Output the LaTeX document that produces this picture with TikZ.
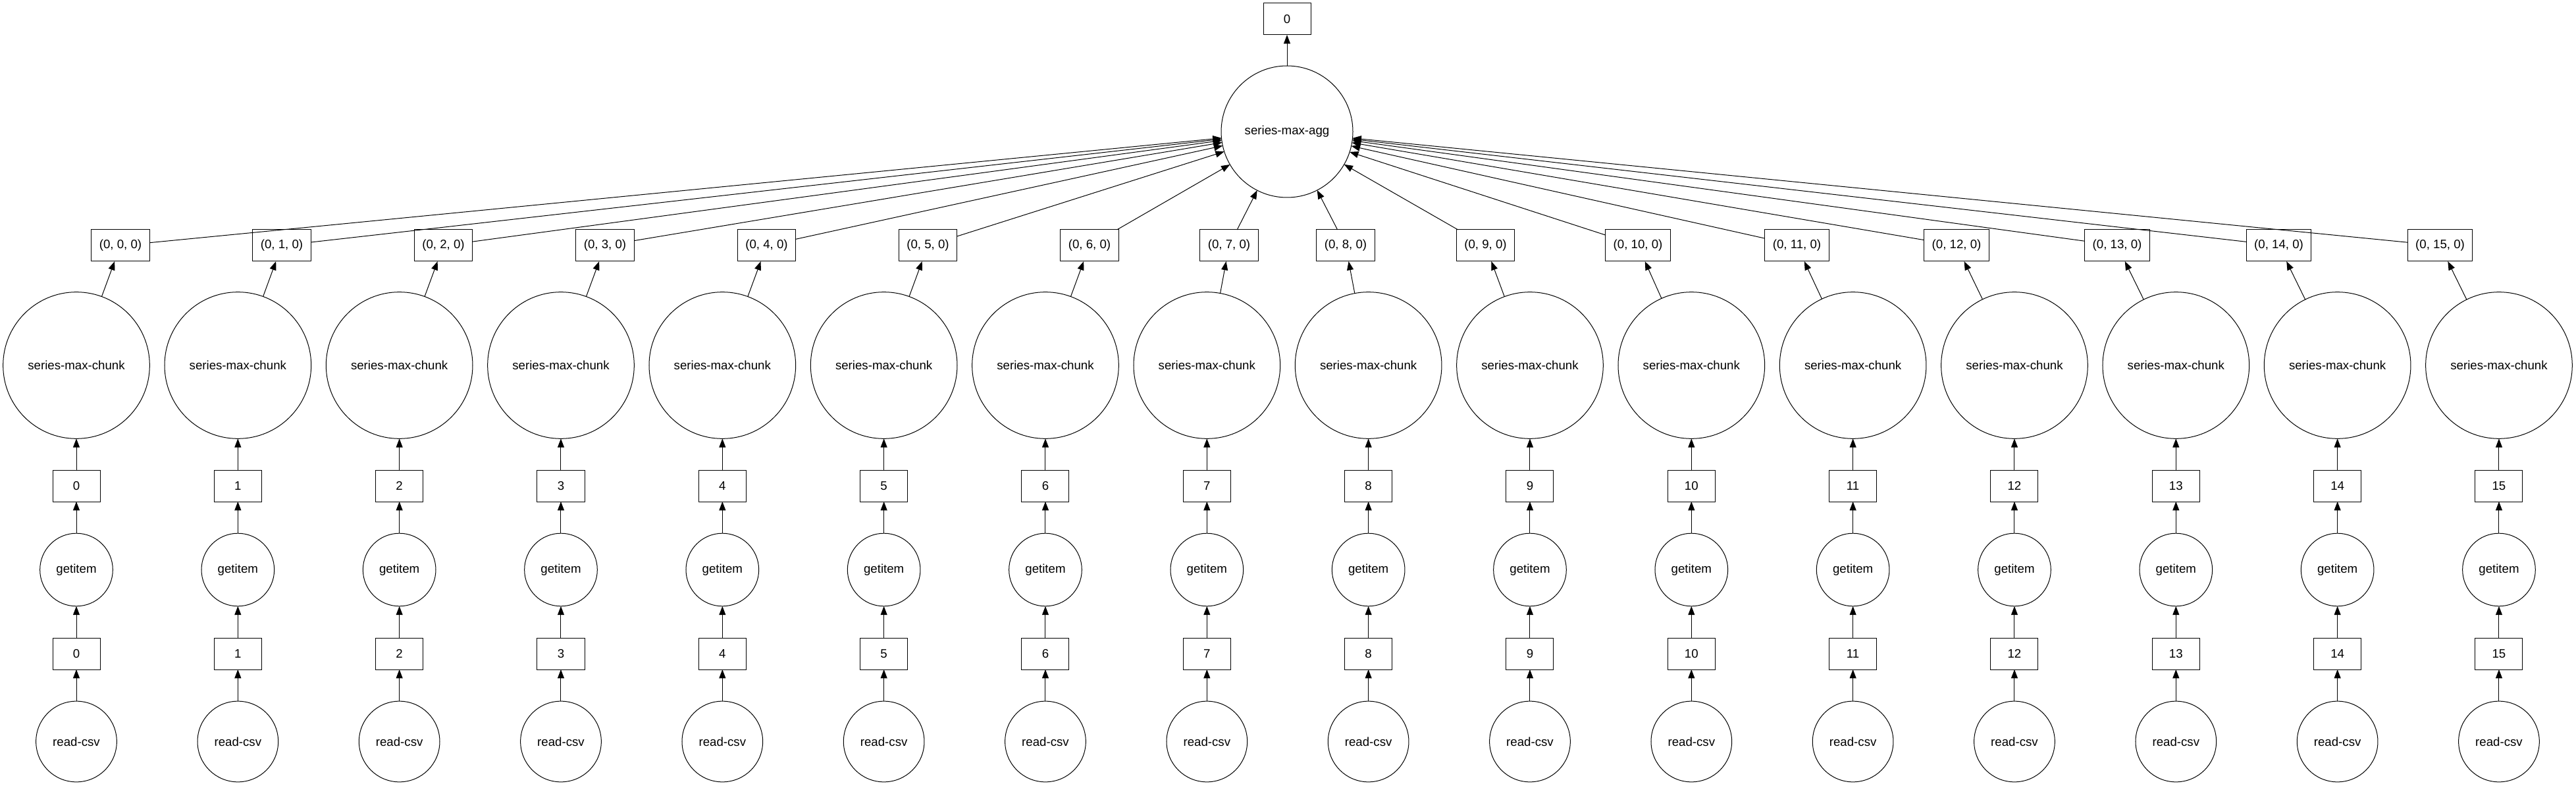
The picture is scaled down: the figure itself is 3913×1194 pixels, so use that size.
\documentclass[tikz,border=0pt]{standalone}
\usepackage{fontspec}
\setmainfont{Liberation Sans}
\usetikzlibrary{arrows.meta}

\begin{document}
\begin{tikzpicture}[x=0.75pt, y=-0.75pt, >={Triangle[length=10pt,width=7.5pt]},
  line width=0.75pt,
  databox/.style={draw, rectangle, minimum width=54pt, minimum height=36pt,
    inner xsep=9pt, outer sep=0pt, font=\fontsize{14}{16}\selectfont},
  task/.style={draw, circle, inner sep=0pt, outer sep=0pt,
    font=\fontsize{14}{16}\selectfont}]
  \useasboundingbox (0,0) rectangle (3913,1194);

  % aggregation at the top
  \node[databox] (out) at (1955,29) {0};
  \node[task, minimum size=150pt] (agg) at (1955,200) {series-max-agg};
  \draw[->] (agg) -- (out);

  % one column per partition
  \foreach \i/\tx in {0/183, 1/428, 2/673.5, 3/919, 4/1164.5, 5/1409.5,
      6/1655, 7/1867, 8/2044, 9/2256.5, 10/2488, 11/2729.5, 12/2972,
      13/3216, 14/3461.5, 15/3706.5} {
    \pgfmathsetmacro{\cx}{116+245.33*\i}
    \node[databox] (tup\i) at (\tx,373) {(0, \i, 0)};
    \node[task, minimum size=167pt] (chunk\i) at (\cx,555) {series-max-chunk};
    \node[databox] (idx\i) at (\cx,738) {\i};
    \node[task, minimum size=83pt] (get\i) at (\cx,865.5) {getitem};
    \node[databox] (part\i) at (\cx,993) {\i};
    \node[task, minimum size=92pt] (read\i) at (\cx,1126.5) {read-csv};

    \draw[->] (read\i) -- (part\i);
    \draw[->] (part\i) -- (get\i);
    \draw[->] (get\i) -- (idx\i);
    \draw[->] (idx\i) -- (chunk\i);
    \draw[->] (chunk\i) -- (tup\i);
    \draw[->] (tup\i) -- (agg);
  }
\end{tikzpicture}
\end{document}
